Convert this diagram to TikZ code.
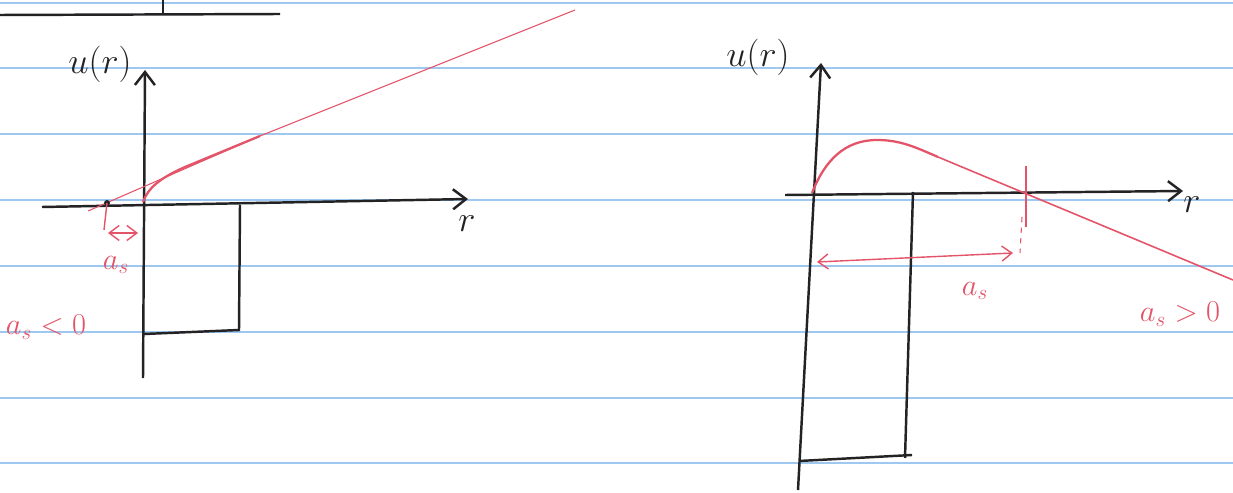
\documentclass[tikz,border=0pt]{standalone}
\usetikzlibrary{arrows.meta}
\definecolor{ink}{RGB}{35,35,38}
\definecolor{pen}{RGB}{228,84,104}
\definecolor{rule}{RGB}{158,200,240}

\begin{document}
\begin{tikzpicture}[
  x=0.02cm, y=-0.02cm,
  paper/.style ={draw=rule, line width=1.3pt},
  axis/.style  ={draw=ink, line width=1.4pt, -{Straight Barb[length=2.6mm, width=4mm]}},
  wall/.style  ={draw=ink, line width=1.4pt},
  curve/.style ={draw=pen, line width=1.3pt},
  asym/.style  ={draw=pen, line width=0.6pt},
  dim/.style   ={draw=pen, line width=0.8pt, {Straight Barb[length=2mm, width=3mm]}-{Straight Barb[length=2mm, width=3mm]}},
  lbl/.style   ={font=\fontsize{20}{22}\selectfont, text=ink, inner sep=1pt},
  rlbl/.style  ={font=\fontsize{17}{19}\selectfont, text=pen, inner sep=1pt}
]
\useasboundingbox (0,0) rectangle (1233,493);
\fill[white] (0,0) rectangle (1233,493);

% =================== RULED PAPER ===================
\foreach \y in {3,68,134,200,266,332,398,463}
  \draw[paper] (0,\y) -- (1233,\y);

% left-over of the sketch above
\draw[wall] (0,15) -- (280,14);
\draw[wall] (163,0) -- (163,15);

% =================== LEFT: a_s < 0 ===================
\coordinate (lbot) at (143,378);
\coordinate (ltop) at (145,70);
\coordinate (lxs)  at (42,207);
\coordinate (lxe)  at (468,199);
\coordinate (lo)   at (143,202);
\coordinate (lcut) at (107,203);

\draw[axis] (lbot) -- (ltop);
\draw[axis] (lxs) -- (lxe);
\node[lbl] (lu) at (100,64) {$u(r)$};
\node[lbl] (lr) at (467,224) {$r$};

% square well
\draw[wall] (240,205) -- (239,330) -- (144,334);

% wavefunction outside the well and its straight-line extension
\draw[asym] (88,211) -- (260,136) -- (575,10);
\draw[curve] (lo) .. controls (148,188) and (160,178) .. (185,167) -- (260,136);
\fill[ink] (lcut) circle (3);

% scattering length
\draw[pen, line width=0.8pt] (lcut) -- (104,230);
\draw[dim] (108,233) -- (138,233);
\node[rlbl] (las) at (116,265) {$a_s$};
\node[rlbl] (lsign) at (46,327) {$a_s<0$};

% =================== RIGHT: a_s > 0 ===================
\coordinate (rbot) at (798,490);
\coordinate (rtop) at (821,63);
\coordinate (rxs)  at (785,195);
\coordinate (rxe)  at (1183,191);
\coordinate (ro)   at (812,193);
\coordinate (rcut) at (1026,192);

\draw[axis] (rbot) -- (rtop);
\draw[axis] (rxs) -- (rxe);
\node[lbl] (ru) at (758,57) {$u(r)$};
\node[lbl] (rr) at (1192,205) {$r$};

% square well
\draw[wall] (913,192) -- (905,458);
\draw[wall] (799,461) -- (912,455);

% wavefunction
\draw[curve] (ro) .. controls (825,160) and (845,140) .. (877,140)
  .. controls (900,140) and (915,147) .. (938,157);
\draw[curve, line width=0.9pt] (938,157) -- (1233,280);

% scattering length
\draw[pen, line width=0.8pt] ([yshift=15]rcut) -- ([yshift=-20]rcut);
\draw[pen, line width=0.6pt, dashed] (1022,217) -- (1020,253);
\draw[dim] (817,262) -- (1013,253);
\node[rlbl] (ras) at (975,291) {$a_s$};
\node[rlbl] (rsign) at (1180,314) {$a_s>0$};

\end{tikzpicture}
\end{document}
